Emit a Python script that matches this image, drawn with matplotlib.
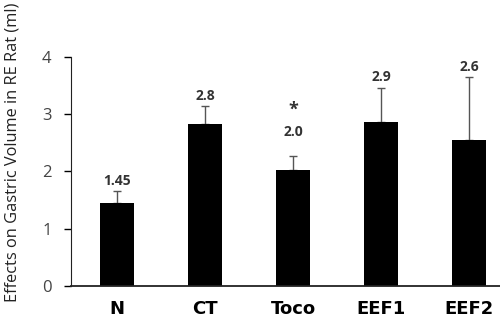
import matplotlib
matplotlib.use('Agg')
import matplotlib.pyplot as plt

groups = ['N', 'CT', 'Toco', 'EEF1', 'EEF2']
volumes = [1.45, 2.83, 2.03, 2.86, 2.55]
errors = [0.21, 0.31, 0.24, 0.60, 1.10]
value_labels = ['1.45', '2.8', '2.0', '2.9', '2.6']
significant = [False, False, True, False, False]

plt.rcParams['font.family'] = ['Open Sans', 'DejaVu Sans']

fig = plt.figure(figsize=(5.0, 3.19), dpi=100)
ax = fig.add_axes([0.142, 0.1034, 0.86, 0.718])

x = list(range(len(groups)))
ax.bar(x, volumes, width=0.39, color='black', zorder=2)
ax.errorbar(x, volumes, yerr=[[0] * len(errors), errors], fmt='none',
            ecolor='#555555', elinewidth=1, capsize=3, capthick=1, zorder=1)

for i, (v, e, lab) in enumerate(zip(volumes, errors, value_labels)):
    top = v + e
    if significant[i]:
        # label sits higher with a star above it
        ax.annotate(lab, (i, top), xytext=(0, 17), textcoords='offset points',
                    ha='center', va='center', fontsize=10, fontweight='bold',
                    color='#333333')
        ax.annotate('*', (i, top), xytext=(0, 33), textcoords='offset points',
                    ha='center', va='center', fontsize=13, fontweight='bold',
                    color='#333333')
    else:
        ax.annotate(lab, (i, top), xytext=(0, 7.5), textcoords='offset points',
                    ha='center', va='center', fontsize=10, fontweight='bold',
                    color='#333333')

ax.set_ylim(0, 4)
ax.set_xlim(-0.52, 4.36)
ax.set_yticks([0, 1, 2, 3, 4])
ax.set_xticks(x)
ax.set_xticklabels(groups, fontsize=13, fontweight='bold',
                   family=['DejaVu Sans'])
ax.tick_params(axis='y', labelsize=12, labelcolor='#444444', length=5,
               width=1, direction='out', pad=9)
ax.tick_params(axis='x', length=0, pad=10)

for s in ['top', 'right']:
    ax.spines[s].set_visible(False)
ax.spines['left'].set_color('#222222')
ax.spines['bottom'].set_color('#222222')
ax.spines['bottom'].set_linewidth(1.3)

fig.text(0.026, 0.522, 'Effects on Gastric Volume in RE Rat (ml)', rotation=90,
         ha='center', va='center', fontsize=11.8, color='#222222')

fig.savefig('out.png', dpi=100)
